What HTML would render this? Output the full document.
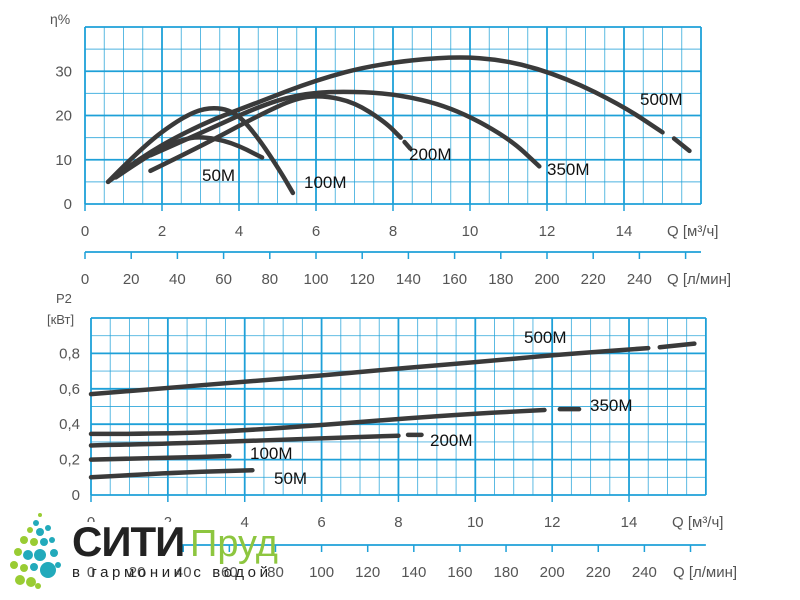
<!DOCTYPE html>
<html><head><meta charset="utf-8"><style>
body{margin:0;background:#fff;width:800px;height:600px;overflow:hidden}
svg{display:block}
text{font-family:"Liberation Sans",sans-serif}
</style></head><body>
<svg id="s" width="800" height="600" xmlns="http://www.w3.org/2000/svg"></svg>
<script>
const s=document.getElementById('s');let h='';
const C='#1ea0d8';
function grid(x0,y0,ux,top,bottom,rows){
  for(let i=0;i<=32;i++){const x=x0+i*ux/2;const maj=i%4==0;
    h+=`<line x1="${x}" y1="${top}" x2="${x}" y2="${bottom}" stroke="${C}" stroke-width="${maj?1.8:0.9}" opacity="${maj?1:0.8}"/>`;}
  for(let j=0;j<=rows;j++){const y=top+(bottom-top)*j/rows;const maj=(rows-j)%2==0;
    h+=`<line x1="${x0}" y1="${y}" x2="${x0+16*ux}" y2="${y}" stroke="${C}" stroke-width="${maj?1.8:0.9}" opacity="${maj?1:0.8}"/>`;}
}
const X1=85,U1=38.5,T1=27,B1=204;
grid(X1,0,U1,T1,B1,8);
for(let i=0;i<=14;i+=2){h+=`<line x1="${X1+i*U1}" y1="${B1}" x2="${X1+i*U1}" y2="${B1+7}" stroke="${C}" stroke-width="1.5"/><text x="${X1+i*U1}" y="236" font-size="15" fill="#555" text-anchor="middle">${i}</text>`}
h+=`<text x="667" y="236" font-size="15" fill="#555">Q [м³/ч]</text>`;
[0,10,20,30].forEach(v=>{h+=`<text x="72" y="${B1-v*4.425+5}" font-size="15" fill="#555" text-anchor="end">${v}</text>`});
h+=`<text x="50" y="24" font-size="14" fill="#555">η%</text>`;
function lmin(x0,y,u){h+=`<line x1="${x0}" y1="${y}" x2="${x0+16*u}" y2="${y}" stroke="${C}" stroke-width="1.8"/>`;
 for(let k=0;k<=13;k++){const x=x0+k*1.2*u;h+=`<line x1="${x}" y1="${y}" x2="${x}" y2="${y+7}" stroke="${C}" stroke-width="1.5"/>`;
 if(k<=12)h+=`<text x="${x}" y="${y+32}" font-size="15" fill="#555" text-anchor="middle">${k*20}</text>`;}
 h+=`<text x="${x0+582}" y="${y+32}" font-size="15" fill="#555">Q [л/мин]</text>`;}
lmin(X1,252,U1);
function P1(q,e){return [X1+q*U1,B1-e*4.425]}
function path(pts,f,w){const p=pts.map(a=>f(a[0],a[1]));let d='M'+p[0].join(',');
 for(let i=1;i<p.length-1;i++){const m=[(p[i][0]+p[i+1][0])/2,(p[i][1]+p[i+1][1])/2];d+=` Q${p[i].join(',')} ${m.join(',')}`}
 d+=` L${p[p.length-1].join(',')}`;return `<path d="${d}" fill="none" stroke="#3a3a3a" stroke-width="${w||4.5}" stroke-linecap="round"/>`}
h+=path([[0.6,5],[1.5,11],[3,18],[4.5,23],[6,28],[7.5,31.5],[9.5,33.4],[11,32.5],[12.5,28.5],[14,22],[15,16.2]],P1);
h+=path([[15.3,14.8],[15.7,12]],P1);
h+=path([[1.7,11],[3,16],[4.5,22],[5.5,24.7],[6.5,25.5],[8,25],[9.5,22],[11,15],[11.8,8.5]],P1);
h+=path([[1.7,7.5],[3,13],[4.5,20],[5.5,24],[6.2,24.5],[7,23],[7.8,18.5],[8.2,15]],P1);
h+=path([[8.3,14],[8.45,12.5]],P1);
h+=path([[0.6,5],[1.5,13],[2.5,19.5],[3.2,22],[3.9,21],[4.5,15],[5.1,7],[5.4,2.5]],P1);
h+=path([[0.8,6],[1.8,12],[2.5,14.5],[3,15.3],[3.8,14],[4.6,10.5]],P1);
const lab=(x,y,t)=>h+=`<text x="${x}" y="${y}" font-size="17" fill="#111">${t}</text>`;
lab(202,181,'50M');lab(304,188,'100M');lab(409,160,'200M');lab(547,175,'350M');lab(640,105,'500M');
const X2=91,U2=38.43,T2=318,B2=495;
grid(X2,0,U2,T2,B2,10);
for(let i=0;i<=14;i+=2){h+=`<line x1="${X2+i*U2}" y1="${B2}" x2="${X2+i*U2}" y2="${B2+7}" stroke="${C}" stroke-width="1.5"/><text x="${X2+i*U2}" y="527" font-size="15" fill="#555" text-anchor="middle">${i}</text>`}
h+=`<text x="672" y="527" font-size="15" fill="#555">Q [м³/ч]</text>`;
['0','0,2','0,4','0,6','0,8'].forEach((v,i)=>{h+=`<text x="80" y="${B2-i*35.4+5}" font-size="15" fill="#555" text-anchor="end">${v}</text>`});
h+=`<text x="56" y="303" font-size="13" fill="#555">P2</text><text x="47" y="324" font-size="13" fill="#555">[кВт]</text>`;
lmin(X2,545,U2);
function P2(q,p){return [X2+q*U2,B2-p*177]}
h+=path([[0,0.57],[2,0.605],[4,0.64],[6,0.675],[8,0.715],[10,0.75],[12,0.79],[14.5,0.83]],P2);
h+=path([[14.8,0.835],[15.7,0.855]],P2);
h+=path([[0,0.345],[2,0.345],[4,0.365],[6,0.395],[8,0.43],[10,0.46],[11.8,0.48]],P2);
h+=path([[12.2,0.485],[12.7,0.485]],P2);
h+=path([[0,0.28],[2,0.29],[4,0.305],[6,0.32],[8,0.335]],P2);
h+=path([[8.25,0.34],[8.6,0.34]],P2);
h+=path([[0,0.2],[2,0.21],[3.6,0.22]],P2);
h+=path([[0,0.1],[2,0.125],[4.2,0.14]],P2);
lab(250,459,'100M');lab(274,484,'50M');lab(430,446,'200M');lab(590,411,'350M');lab(524,343,'500M');
const dots=[[40,515,2,'#9c3'],[36,523,3,'#2ab'],[30,530,3,'#9c3'],[40,532,4,'#2ab'],[48,528,3,'#2ab'],[24,540,4,'#9c3'],[34,542,4,'#9c3'],[44,542,4,'#2ab'],[52,540,3,'#2ab'],[18,552,4,'#9c3'],[28,555,5,'#2ab'],[40,555,6,'#2ab'],[54,553,4,'#2ab'],[14,565,4,'#9c3'],[24,568,4,'#9c3'],[34,567,4,'#2ab'],[48,570,8,'#2ab'],[20,580,5,'#9c3'],[31,582,5,'#9c3'],[58,565,3,'#2ab'],[38,586,3,'#9c3']];
dots.forEach(d=>h+=`<circle cx="${d[0]}" cy="${d[1]}" r="${d[2]}" fill="${d[3]}"/>`);
h+=`<rect x="70" y="522" width="110" height="34" fill="#fff"/>`;
h+=`<text x="72" y="556" font-size="42" font-weight="bold" fill="#222" letter-spacing="-1">СИТИ</text>`;
h+=`<text x="190" y="556" font-size="38" fill="#8dc63f">Пруд</text>`;
h+=`<text x="72" y="577" font-size="15" fill="#222" letter-spacing="3.6">в гармонии с водой</text>`;
s.innerHTML=h;
</script>
</body></html>
